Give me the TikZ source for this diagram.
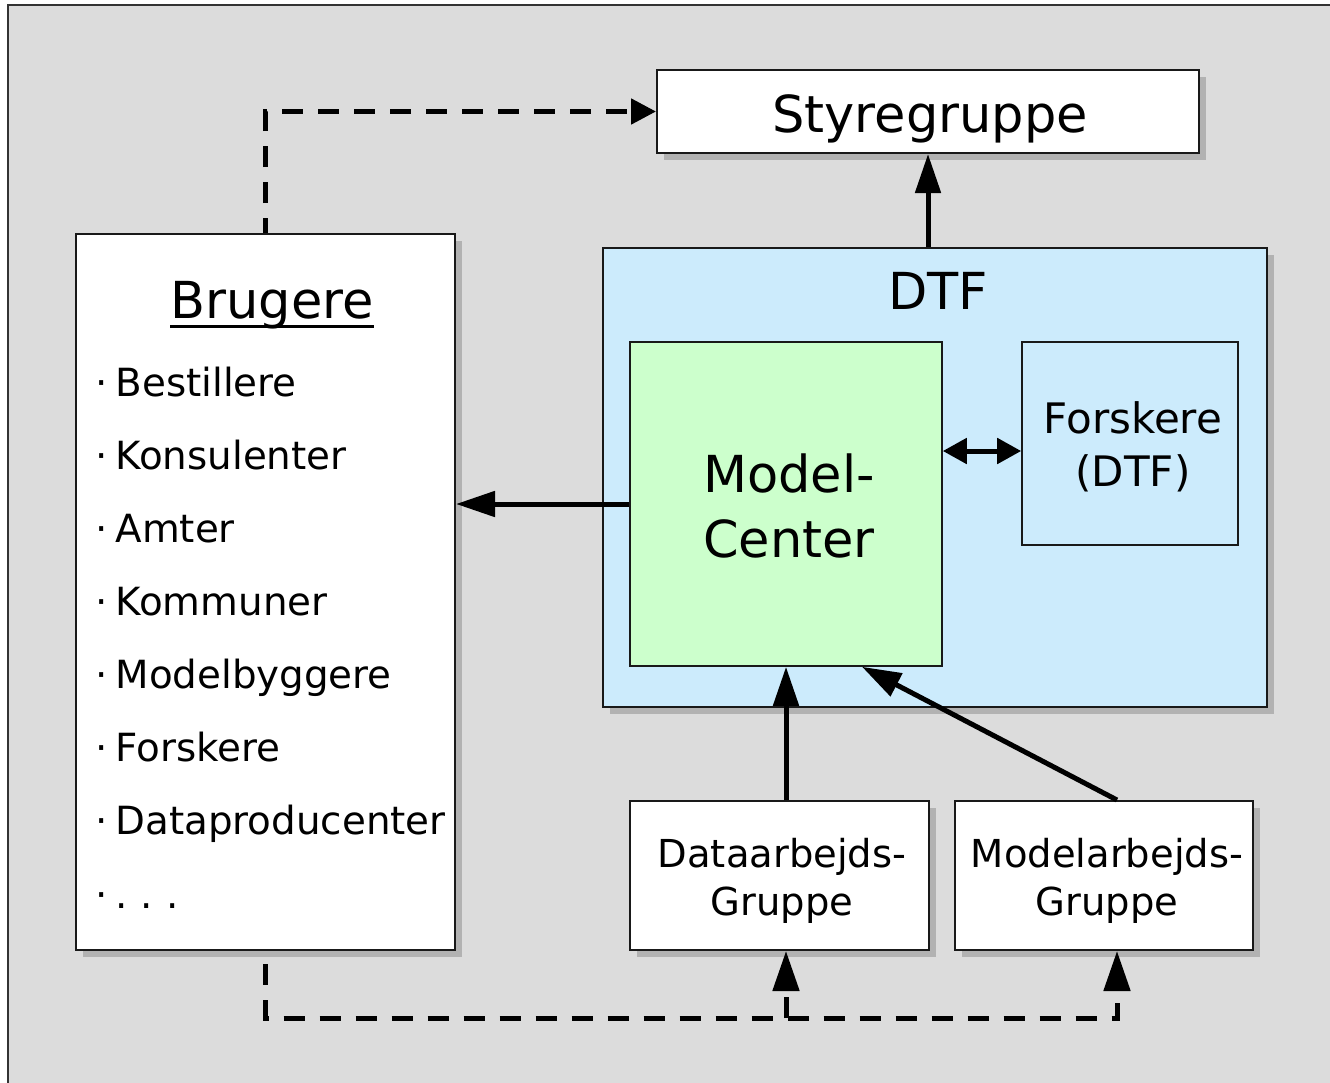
\documentclass[tikz,border=0pt]{standalone}
\usepackage{fontspec}
\setmainfont{DejaVu Sans}
\usetikzlibrary{arrows.meta,shadows}
\definecolor{bggray}{HTML}{DCDCDC}
\definecolor{shadowgray}{HTML}{B2B2B2}
\definecolor{dtfblue}{HTML}{CCEBFC}
\definecolor{mcgreen}{HTML}{CCFFCC}
\definecolor{framegray}{HTML}{333333}
\tikzset{
  box/.style={draw=black!90, line width=2pt, fill=white, inner sep=0pt, rectangle},
  shbox/.style={box, drop shadow={shadow xshift=6.5pt, shadow yshift=-6.5pt, fill=shadowgray, opacity=1}},
  innerbox/.style={draw=black!90, line width=1.6pt, inner sep=0pt, rectangle},
  txt/.style={inner sep=0pt, anchor=base},
  listitem/.style={inner sep=0pt, anchor=base west, font=\fontsize{38.8}{44}\selectfont},
  bigfont/.style={font=\fontsize{51}{60}\selectfont},
  midfont/.style={font=\fontsize{42}{50}\selectfont},
  smallfont/.style={font=\fontsize{38.5}{46}\selectfont},
  solidarrow/.style={line width=5pt, -{Triangle[length=39pt,width=25pt]}},
  dblarrow/.style={line width=5pt, {Triangle[length=24pt,width=25pt]}-{Triangle[length=24pt,width=25pt]}},
  dasharrow/.style={line width=5pt, dash pattern=on 21pt off 15pt},
}
\begin{document}
\begin{tikzpicture}[x=1pt,y=-1pt]
\useasboundingbox (0,0) rectangle (1330,1082);
\clip (0,0) rectangle (1330,1082);
\draw[fill=bggray, draw=framegray, line width=2pt] (8,5) rectangle (1350,1100);

% boxes
\node[shbox, minimum width=542pt, minimum height=83pt] (styr) at (928,111.5) {};
\node[shbox, minimum width=379pt, minimum height=716pt] (brug) at (265.5,592) {};
\node[shbox, fill=dtfblue, minimum width=664pt, minimum height=459pt] (dtf) at (935,477.5) {};
\node[innerbox, fill=mcgreen, minimum width=312pt, minimum height=324pt] (mc) at (786,504) {};
\node[innerbox, fill=dtfblue, minimum width=216pt, minimum height=203pt] (forsk) at (1130,443.5) {};
\node[shbox, minimum width=299pt, minimum height=149pt] (data) at (779.5,875.5) {};
\node[shbox, minimum width=298pt, minimum height=149pt] (modarb) at (1104,875.5) {};

% texts
\node[txt, bigfont] (styrtxt) at (930,132) {Styregruppe};
\node[txt, bigfont] (brugtxt) at (272,318) {Brugere};
\draw[line width=2.6pt] ([yshift=-8.5pt]brugtxt.base west) -- ([yshift=-8.5pt]brugtxt.base east);
\node[txt, bigfont] (dtftxt) at (938,309) {DTF};
\node[txt, bigfont, anchor=base west] (mctxta) at (703,492) {Model-};
\node[txt, bigfont, anchor=base west] (mctxtb) at (703,557) {Center};
\node[txt, midfont] (forsktxta) at (1133,433) {Forskere};
\node[txt, midfont] (forsktxtb) at (1133,486) {(DTF)};
\node[txt, smallfont] (datatxta) at (782,867) {Dataarbejds-};
\node[txt, smallfont] (datatxtb) at (782,915) {Gruppe};
\node[txt, smallfont] (modtxta) at (1107,867) {Modelarbejds-};
\node[txt, smallfont] (modtxtb) at (1107,915) {Gruppe};

\node[listitem] (l1) at (95,396) {·\hspace{8pt}Bestillere};
\node[listitem] (l2) at (95,469) {·\hspace{8pt}Konsulenter};
\node[listitem] (l3) at (95,542) {·\hspace{8pt}Amter};
\node[listitem] (l4) at (95,615) {·\hspace{8pt}Kommuner};
\node[listitem] (l5) at (95,688) {·\hspace{8pt}Modelbyggere};
\node[listitem] (l6) at (95,761) {·\hspace{8pt}Forskere};
\node[listitem] (l7) at (95,834) {·\hspace{8pt}Dataproducenter};
\node[listitem] (l8) at (95,908) {·\hspace{8pt}.\hspace{13pt}.\hspace{13pt}.};

% solid connectors
\draw[solidarrow] (styr.south |- dtf.north) -- (styr.south);
\draw[solidarrow] (mc.west) -- (mc.west -| brug.east);
\draw[dblarrow] (mc.east |- 0,451) -- (forsk.west |- 0,451);
\draw[solidarrow] (mc.south |- data.north) -- (mc.south);
\draw[solidarrow] ([xshift=13pt]modarb.north) -- ([xshift=76pt]mc.south);

% dashed connectors
\coordinate (junc) at (786,1018);
\draw[dasharrow, dash phase=6pt, -{Triangle[length=25pt,width=25pt]}] (brug.north) |- (styr.west);
\draw[dasharrow, dash phase=23pt, -{Triangle[length=40pt,width=26pt]}] (brug.south) |- (junc) -| ([xshift=13pt]modarb.south);
\draw[dasharrow, -{Triangle[length=40pt,width=26pt]}] (junc) -- (mc.south |- data.south);
\end{tikzpicture}
\end{document}
